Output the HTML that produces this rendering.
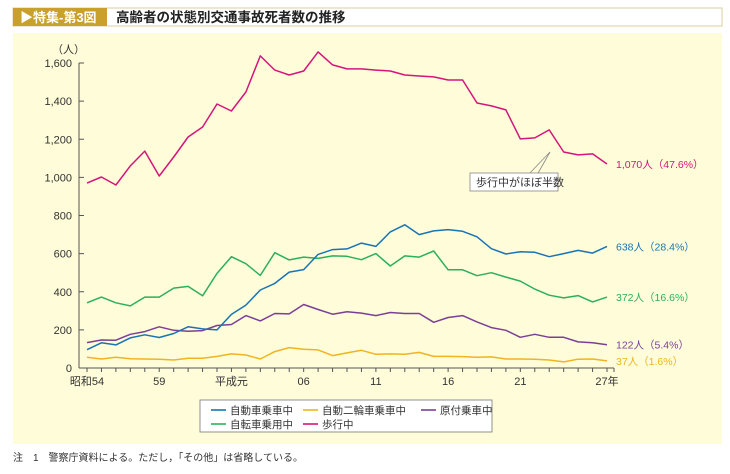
<!DOCTYPE html>
<html><head><meta charset="utf-8"><style>
body{margin:0;width:730px;height:469px;background:#fff;overflow:hidden;font-family:"Liberation Sans","Noto Sans CJK JP",sans-serif;}
svg text{font-family:"Liberation Sans","Noto Sans CJK JP",sans-serif;}
</style></head><body>
<svg width="730" height="469" viewBox="0 0 730 469">
<rect x="13" y="8" width="709" height="18" fill="#fff" stroke="#d8cf9e" stroke-width="1"/>
<rect x="13" y="8" width="94" height="18" fill="#c9a02c"/>
<text x="20" y="22" font-size="13" font-weight="bold" fill="#fff">▶特集-第3図</text>
<text x="116" y="22" font-size="13.5" font-weight="bold" fill="#222">高齢者の状態別交通事故死者数の推移</text>
<rect x="13" y="33" width="709" height="411" fill="#fefcd9"/>
<g id="axes"></g>
<g id="series"></g>
<text x="52" y="53" font-size="11" fill="#333">（人）</text>
<g>
<line x1="550" y1="152" x2="528" y2="175" stroke="#888" stroke-width="0.8"/>
<line x1="550" y1="152" x2="537" y2="175" stroke="#888" stroke-width="0.8"/>
<rect x="470" y="173" width="88" height="18" fill="#fff" stroke="#888" stroke-width="0.8"/>
<text x="476" y="186" font-size="11" fill="#333">歩行中がほぼ半数</text>
</g>
<rect x="200" y="400" width="292" height="32" fill="#fff" stroke="#777" stroke-width="0.8"/>
<g><line x1="211" y1="410" x2="226" y2="410" stroke="#1a73b5" stroke-width="1.6"/><text x="230" y="414" font-size="10.5" fill="#333">自動車乗車中</text></g>
<g><line x1="303" y1="410" x2="318" y2="410" stroke="#f0b422" stroke-width="1.6"/><text x="322" y="414" font-size="10.5" fill="#333">自動二輪車乗車中</text></g>
<g><line x1="421" y1="410" x2="436" y2="410" stroke="#7b3f98" stroke-width="1.6"/><text x="440" y="414" font-size="10.5" fill="#333">原付乗車中</text></g>
<g><line x1="211" y1="424" x2="226" y2="424" stroke="#2bb05c" stroke-width="1.6"/><text x="230" y="428" font-size="10.5" fill="#333">自転車乗用中</text></g>
<g><line x1="303" y1="424" x2="318" y2="424" stroke="#d6147c" stroke-width="1.6"/><text x="322" y="428" font-size="10.5" fill="#333">歩行中</text></g>
<text x="13" y="461" font-size="10" fill="#333" font-family="Liberation Serif, Noto Serif CJK SC, serif">注　1　警察庁資料による。ただし，「その他」は省略している。</text>
</svg>
<script>
const years=[1979,1980,1981,1982,1983,1984,1985,1986,1987,1988,1989,1990,1991,1992,1993,1994,1995,1996,1997,1998,1999,2000,2001,2002,2003,2004,2005,2006,2007,2008,2009,2010,2011,2012,2013,2014,2015];
const xTickYears=[1979,1984,1989,1994,1999,2004,2009,2015];
const xTickLabels=["昭和54","59","平成元","06","11","16","21","27年"];
const yTicks=[0,200,400,600,800,1000,1200,1400,1600];
const pedestrian=[970,1002,960,1060,1138,1007,1107,1212,1264,1385,1348,1448,1637,1563,1537,1558,1658,1590,1569,1569,1563,1558,1537,1532,1527,1511,1511,1390,1375,1354,1202,1207,1249,1133,1118,1123,1070];
const car=[96,132,121,158,174,160,181,216,205,200,281,330,409,444,503,516,596,621,625,655,638,714,751,700,719,726,717,688,626,598,610,607,584,600,617,603,638];
const bicycle=[342,372,342,326,372,372,419,428,379,496,584,547,486,605,567,582,575,588,586,568,600,535,588,582,614,515,515,484,500,477,456,414,382,368,380,347,372];
const moped=[133,147,146,177,191,216,198,193,196,223,228,275,247,286,284,333,307,282,295,288,275,291,286,286,240,265,275,242,212,198,161,177,161,161,137,132,122];
const motorcycle=[56,47,56,49,47,46,42,51,51,61,74,68,47,86,107,98,95,65,79,93,72,74,72,82,61,61,60,56,58,47,47,46,42,32,46,47,37];
const endLabels=["1,070人（47.6%）","638人（28.4%）","372人（16.6%）","122人（5.4%）","37人（1.6%）"];

const NS="http://www.w3.org/2000/svg";
const X0=87,X1=607,Y0=368,Y1=63;
const xs=y=>X0+(y-years[0])/(years[years.length-1]-years[0])*(X1-X0);
const ys=v=>Y0-v/1600*(Y0-Y1);
function mk(tag,attrs,parent){const e=document.createElementNS(NS,tag);for(const k in attrs)e.setAttribute(k,attrs[k]);parent.appendChild(e);return e;}
const ax=document.getElementById('axes');
let yl=mk('line',{x1:79,y1:Y0,x2:79,y2:Y1,stroke:'#555','stroke-width':1},ax);


let xl=mk('line',{x1:79,y1:Y0,x2:614,y2:Y0,stroke:'#555','stroke-width':1},ax);


yTicks.forEach(v=>{
  mk('line',{x1:79,y1:ys(v),x2:84,y2:ys(v),stroke:'#555'},ax);
  const t=mk('text',{x:72,y:ys(v)+4,'font-size':11,'text-anchor':'end',fill:'#333'},ax);
  t.textContent=v.toLocaleString('en-US');
  
  
});
years.forEach(y=>{mk('line',{x1:xs(y),y1:Y0,x2:xs(y),y2:Y0+4,stroke:'#555'},ax);});
mk('line',{x1:614,y1:Y0,x2:614,y2:Y0+4,stroke:'#555'},ax);
xTickYears.forEach((y,i)=>{
  const t=mk('text',{x:xs(y),y:385,'font-size':11,'text-anchor':'middle',fill:'#333'},ax);
  t.textContent=xTickLabels[i];
  
  
});
const sg=document.getElementById('series');
const defs=[[motorcycle,'#f0b422','motorcycle-line',4],[moped,'#7b3f98','moped-line',3],[bicycle,'#2bb05c','bicycle-line',2],[car,'#1a73b5','car-line',1],[pedestrian,'#d6147c','pedestrian-line',0]];
defs.forEach(([d,c,n,li])=>{
  const p=mk('polyline',{points:d.map((v,i)=>xs(years[i]).toFixed(1)+','+ys(v).toFixed(1)).join(' '),fill:'none',stroke:c,'stroke-width':1.5,'stroke-linejoin':'round'},sg);
  
  
  const t=mk('text',{x:616,y:ys(d[d.length-1])+4,'font-size':10.5,fill:c},sg);
  t.textContent=endLabels[li];
  
  
});
</script>
</body></html>
